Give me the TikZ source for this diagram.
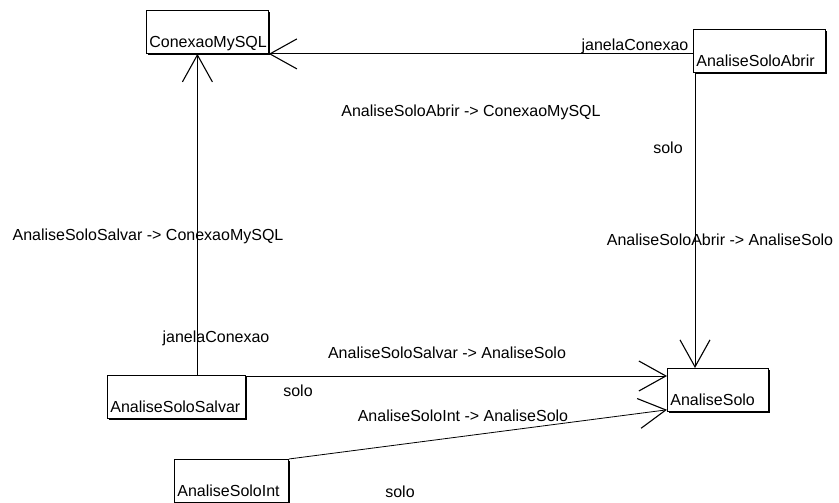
\documentclass[tikz,border=0pt]{standalone}
\usepackage{fontspec}
\setmainfont{Liberation Sans}
\usepackage{tikz}
\usetikzlibrary{arrows.meta,shadows}

\begin{document}
\begin{tikzpicture}[
    x=1pt, y=-1pt,
    cls/.style={draw, fill=white, anchor=north west, inner xsep=3pt, inner ysep=2pt,
        align=left, text height=35pt, text depth=4pt, line width=0.8pt,
        font=\fontsize{16}{19}\selectfont,
        drop shadow={shadow xshift=1.5pt, shadow yshift=-1.5pt, fill=black, opacity=1}},
    assoc/.style={-{Straight Barb[length=27pt, width=30pt, line width=1.1pt]}, line width=0.8pt},
    lbl/.style={font=\fontsize{16}{19}\selectfont, inner sep=0pt}
]
\useasboundingbox (0,0) rectangle (839,503);
% classes
\node[cls, text width=116pt] (conexao) at (146,10) {ConexaoMySQL};
\node[cls, text width=126pt] (abrir) at (693,29) {AnaliseSoloAbrir};
\node[cls, text width=132pt] (salvar) at (107,375) {AnaliseSoloSalvar};
\node[cls, text width=95pt] (solo) at (667,368) {AnaliseSolo};
\node[cls, text width=108pt] (int) at (174,459) {AnaliseSoloInt};
% associations
\draw[assoc] ([yshift=-3pt]abrir.west) -- ([yshift=-3pt]abrir.west -| conexao.east);
\draw[assoc] ([xshift=2pt]abrir.south west) -- ([xshift=2pt]abrir.south west |- solo.north);
\draw[assoc] ([xshift=21pt]salvar.north) -- ([xshift=21pt]salvar.north |- conexao.south);
\draw[assoc] ([yshift=-1pt]salvar.north east) -- ([yshift=-1pt]salvar.north east -| solo.west);
\draw[assoc] (int.north east) -- ([yshift=2pt]solo.south west);
% labels
\node[lbl] (l1) at (635,46) {janelaConexao};
\node[lbl] (l2) at (471,112) {AnaliseSoloAbrir -> ConexaoMySQL};
\node[lbl] (l3) at (668,148) {solo};
\node[lbl] (l4) at (720,240) {AnaliseSoloAbrir -> AnaliseSolo};
\node[lbl] (l5) at (148,236) {AnaliseSoloSalvar -> ConexaoMySQL};
\node[lbl] (l6) at (216,338) {janelaConexao};
\node[lbl] (l7) at (447,353) {AnaliseSoloSalvar -> AnaliseSolo};
\node[lbl] (l8) at (298,391) {solo};
\node[lbl] (l9) at (463,416) {AnaliseSoloInt -> AnaliseSolo};
\node[lbl] (l10) at (400,492) {solo};
\end{tikzpicture}
\end{document}
